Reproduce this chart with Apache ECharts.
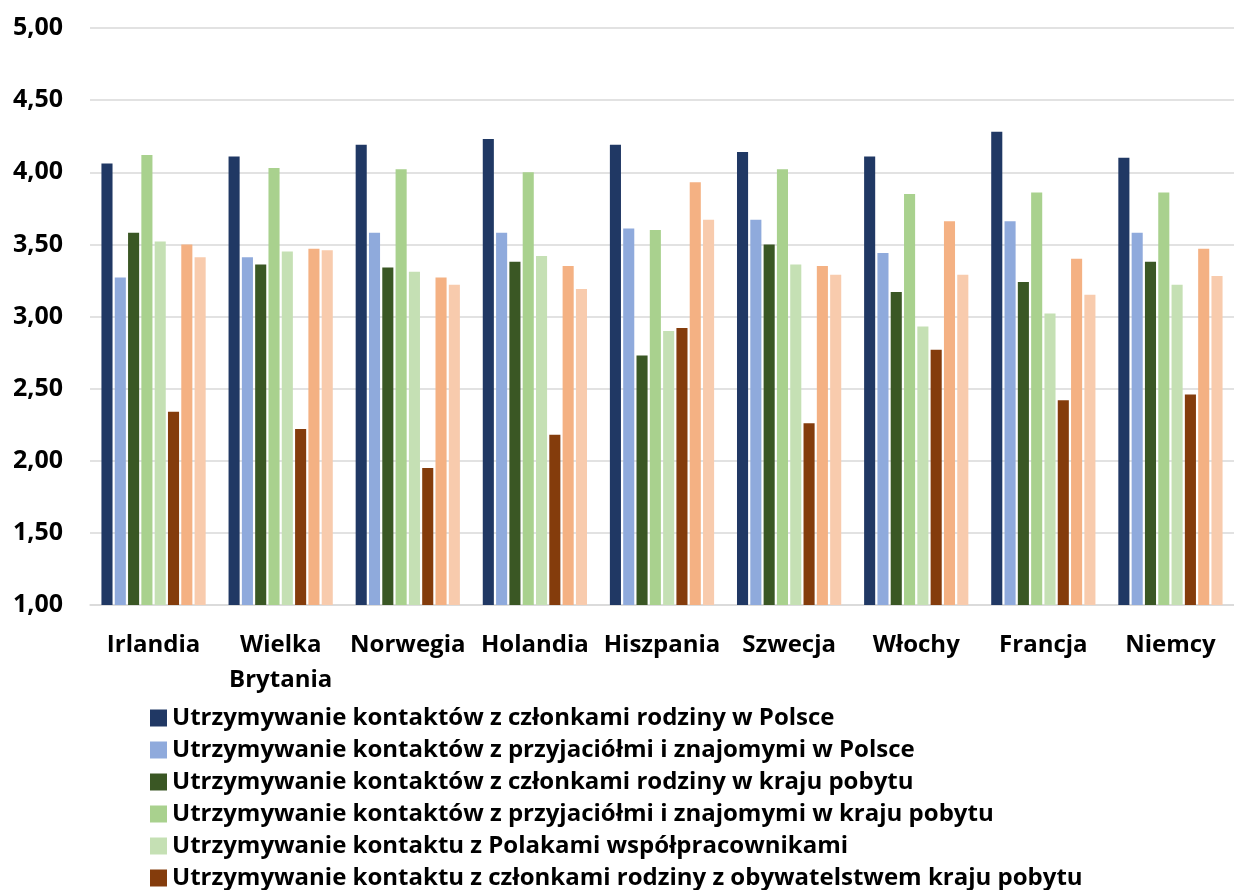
<!DOCTYPE html>
<html>
<head>
<meta charset="utf-8">
<script src="https://cdn.jsdelivr.net/npm/echarts@6/dist/echarts.min.js"></script>
<style>
html,body{margin:0;padding:0;overflow:hidden;background:#fff;}
#c{width:1234px;height:1000px;}
</style>
</head>
<body>
<div id="c"></div>
<script>
const categories = ['Irlandia','Wielka\nBrytania','Norwegia','Holandia','Hiszpania','Szwecja','Włochy','Francja','Niemcy'];
const seriesNames = [
  'Utrzymywanie kontaktów z członkami rodziny w Polsce',
  'Utrzymywanie kontaktów z przyjaciółmi i znajomymi w Polsce',
  'Utrzymywanie kontaktów z członkami rodziny w kraju pobytu',
  'Utrzymywanie kontaktów z przyjaciółmi i znajomymi w kraju pobytu',
  'Utrzymywanie kontaktu z Polakami współpracownikami',
  'Utrzymywanie kontaktu z członkami rodziny z obywatelstwem kraju pobytu',
  'Utrzymywanie kontaktu z przyjaciółmi z obywatelstwem kraju pobytu',
  'Utrzymywanie kontaktu ze współpracownikami z obywatelstwem kraju pobytu'
];
const famPL      = [4.06, 4.11, 4.19, 4.23, 4.19, 4.14, 4.11, 4.28, 4.10];
const friendsPL  = [3.27, 3.41, 3.58, 3.58, 3.61, 3.67, 3.44, 3.66, 3.58];
const famHost    = [3.58, 3.36, 3.34, 3.38, 2.73, 3.50, 3.17, 3.24, 3.38];
const friendsHost= [4.12, 4.03, 4.02, 4.00, 3.60, 4.02, 3.85, 3.86, 3.86];
const coworkPL   = [3.52, 3.45, 3.31, 3.42, 2.90, 3.36, 2.93, 3.02, 3.22];
const famCitizen = [2.34, 2.22, 1.95, 2.18, 2.92, 2.26, 2.77, 2.42, 2.46];
const friendsCit = [3.50, 3.47, 3.27, 3.35, 3.93, 3.35, 3.66, 3.40, 3.47];
const coworkCit  = [3.41, 3.46, 3.22, 3.19, 3.67, 3.29, 3.29, 3.15, 3.28];
const yTicks = [1.0, 1.5, 2.0, 2.5, 3.0, 3.5, 4.0, 4.5, 5.0];

const seriesData = [famPL, friendsPL, famHost, friendsHost, coworkPL, famCitizen, friendsCit, coworkCit];
const colors = ['#203864','#8FAADC','#3A5724','#A9D18E','#C5E0B4','#843C0C','#F4B183','#F8CBAD'];
const FONT = 'Open Sans';

const chart = echarts.init(document.getElementById('c'), null, {renderer:'canvas'});
chart.setOption({
  animation: false,
  color: colors,
  textStyle: {fontFamily: FONT},
  grid: {left: 90, right: 0, top: 28, height: 577, containLabel: false},
  legend: {
    orient: 'vertical',
    left: 145,
    top: 701,
    itemWidth: 17,
    itemHeight: 17,
    itemGap: 8,
    icon: 'rect',
    textStyle: {fontFamily: FONT, fontWeight: 'bold', fontSize: 24, color: '#000', lineHeight: 24},
    data: seriesNames
  },
  xAxis: {
    type: 'category',
    data: categories,
    axisTick: {show: false},
    axisLine: {show: true, lineStyle: {color: '#D9D9D9', width: 1.5}},
    axisLabel: {
      interval: 0, margin: 23, color: '#000', fontFamily: FONT, fontWeight: 'bold',
      fontSize: 24, lineHeight: 35
    }
  },
  yAxis: {
    type: 'value',
    min: 1, max: 5, interval: 0.5,
    axisLine: {show: false},
    axisTick: {show: false},
    splitLine: {lineStyle: {color: '#D9D9D9', width: 1.5}},
    axisLabel: {
      margin: 27, color: '#000', fontFamily: FONT, fontWeight: 'bold', fontSize: 25,
      formatter: v => yTicks.includes(v) ? v.toFixed(2).replace('.', ',') : ''
    }
  },
  series: seriesData.map((d, i) => ({
    name: seriesNames[i],
    type: 'bar',
    data: d,
    barGap: '20%',
    barCategoryGap: '18%',
    itemStyle: {color: colors[i]}
  }))
});
</script>
</body>
</html>
